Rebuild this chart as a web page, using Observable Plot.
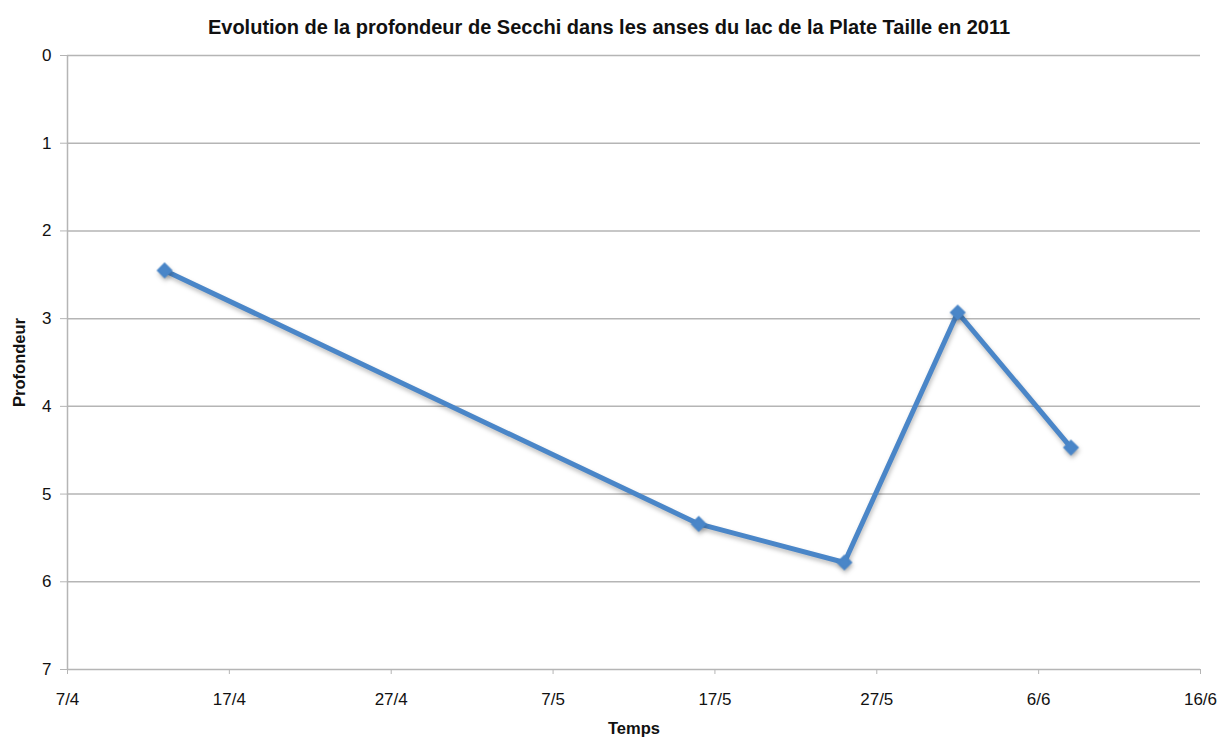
<!DOCTYPE html>
<html>
<head>
<meta charset="utf-8">
<script src="https://cdn.jsdelivr.net/npm/d3@7"></script>
<script src="https://cdn.jsdelivr.net/npm/@observablehq/plot@0.6"></script>
<style>
  html, body { margin: 0; padding: 0; background: #fff; }
  #title {
    height: 40px; line-height: 54px; text-align: center;
    font-family: "Liberation Sans", Arial, sans-serif; font-weight: bold; font-size: 20px; color: #111;
  }
  #chart svg { display: block; }
</style>
</head>
<body>
<div id="title">Evolution de la profondeur de Secchi dans les anses du lac de la Plate Taille en 2011</div>
<div id="chart"></div>
<script>
// Secchi depth readings (m) by sampling date, 2011
const dates = ["2011-04-13", "2011-05-16", "2011-05-25", "2011-06-01", "2011-06-08"];
const depths = [2.45, 5.34, 5.78, 2.93, 4.47];

// Axis ticks
const xTickDates = ["2011-04-07", "2011-04-17", "2011-04-27", "2011-05-07", "2011-05-17", "2011-05-27", "2011-06-06", "2011-06-16"];
const yTicks = [0, 1, 2, 3, 4, 5, 6, 7];

const parse = d3.utcParse("%Y-%m-%d");
const data = dates.map((d, i) => ({date: parse(d), depth: depths[i]}));
const xTicks = xTickDates.map(parse);
const fmt = d => `${d.getUTCDate()}/${d.getUTCMonth() + 1}`;

const blue = "#4a86c8";
const gridColor = "#b5b5b5";

const chart = Plot.plot({
  width: 1218,
  height: 698,
  marginTop: 15,
  marginBottom: 69,
  marginLeft: 67,
  marginRight: 18,
  style: {fontFamily: "Liberation Sans, Arial, sans-serif", fontSize: "17px", fontWeight: "normal", color: "#111", background: "#fff"},
  x: {
    type: "utc",
    domain: [xTicks[0], xTicks[xTicks.length - 1]],
    ticks: xTicks,
    tickFormat: fmt,
    tickSize: 5,
    tickPadding: 18,
    label: "Temps",
    labelAnchor: "center",
    labelOffset: 64,
    labelArrow: "none"
  },
  y: {
    domain: [0, 7],
    reverse: true,
    ticks: yTicks,
    tickFormat: d3.format("d"),
    tickSize: 7,
    tickPadding: 9,
    label: "Profondeur",
    labelAnchor: "center",
    labelOffset: 54,
    labelArrow: "none"
  },
  marks: [
    Plot.ruleY(yTicks, {stroke: gridColor, strokeWidth: 1.5}),
    Plot.ruleX([xTicks[0]], {stroke: gridColor, strokeWidth: 1.5}),
    Plot.line(data, {x: "date", y: "depth", stroke: blue, strokeWidth: 5, strokeLinejoin: "miter"}),
    Plot.dot(data, {x: "date", y: "depth", symbol: "diamond2", r: 6, fill: blue, stroke: blue, strokeWidth: 2})
  ]
});

// soft drop shadow under the series
chart.querySelectorAll('[aria-label="line"], [aria-label="dot"]').forEach(g => {
  g.style.filter = "drop-shadow(1px 3px 2px rgba(0,0,0,0.25))";
});
// tick and axis colours
chart.querySelectorAll('[aria-label="x-axis tick"] path, [aria-label="y-axis tick"] path, [aria-label="x-axis"] path, [aria-label="y-axis"] path').forEach(p => {
  p.setAttribute("stroke", gridColor);
});
// bold axis titles, no direction arrows
chart.querySelectorAll("text").forEach(t => {
  const s = t.textContent;
  if (/[←→↑↓]/.test(s)) t.textContent = s.replace(/\s*[←→↑↓]\s*/g, "");
  if (/Temps|Profondeur/.test(t.textContent)) {
    t.setAttribute("font-weight", "bold");
    t.setAttribute("font-size", "16.5px");
    t.style.fontWeight = "bold";
  }
});

document.getElementById("chart").appendChild(chart);
</script>
</body>
</html>
